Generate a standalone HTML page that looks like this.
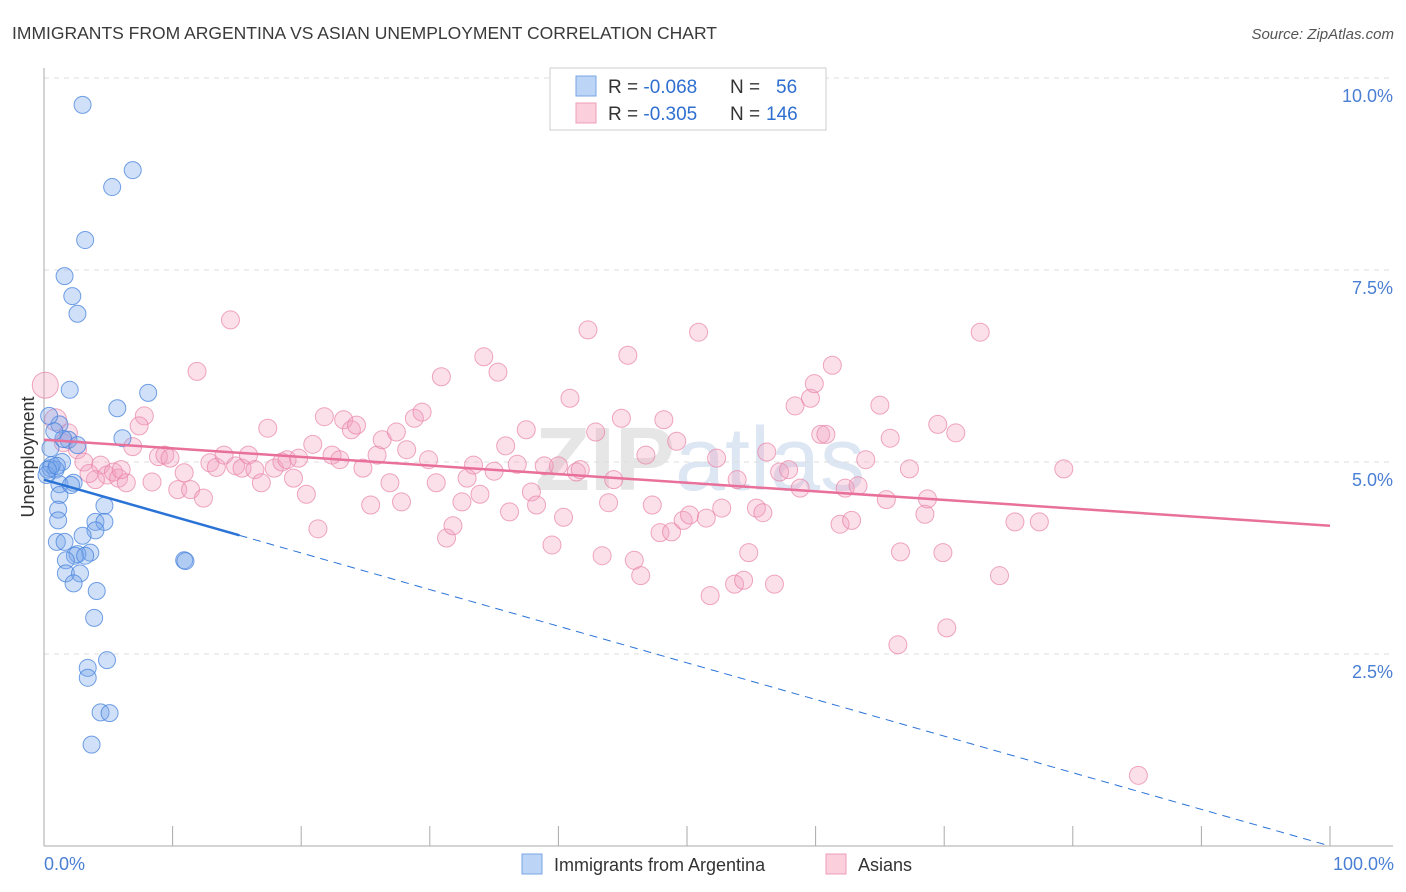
<!DOCTYPE html>
<html><head><meta charset="utf-8"><style>
body{margin:0;background:#fff;font-family:"Liberation Sans",sans-serif;}
svg{display:block}
</style></head><body>
<svg id="chart" width="1406" height="892">
<text x="12" y="39" font-size="17.5" fill="#3a3a3a">IMMIGRANTS FROM ARGENTINA VS ASIAN UNEMPLOYMENT CORRELATION CHART</text>
<text x="1394" y="39" font-size="15" fill="#555" font-style="italic" text-anchor="end">Source: ZipAtlas.com</text>
<text x="700" y="490" font-size="90" fill="#e6e6e6" text-anchor="middle" font-weight="bold">ZIP<tspan font-weight="normal" fill="#dde6f3">atlas</tspan></text>
<g id="grid"></g>
<g id="axes"></g>
<g id="pts"></g>
<g id="lines"></g>
<text transform="translate(34,457) rotate(-90)" font-size="18" fill="#333" text-anchor="middle">Unemployment</text>
<text x="44" y="870" font-size="18" fill="#4a7fd4">0.0%</text>
<text x="1394" y="870" font-size="18" fill="#4a7fd4" text-anchor="end">100.0%</text>
<g>
<rect x="550" y="68" width="276" height="62" fill="#fff" stroke="#ccc"/>
<rect x="576" y="76" width="20" height="20" fill="#bcd4f6" stroke="#7aa6e6"/>
<rect x="576" y="103" width="20" height="20" fill="#fbcfdc" stroke="#ee9cb8"/>
<text x="608" y="93" font-size="19" fill="#333">R = <tspan fill="#2f6fd0">-0.068</tspan></text>
<text x="730" y="93" font-size="19" fill="#333">N = </text><text x="776" y="93" font-size="19" fill="#2f6fd0">56</text>
<text x="608" y="120" font-size="19" fill="#333">R = <tspan fill="#2f6fd0">-0.305</tspan></text>
<text x="730" y="120" font-size="19" fill="#333">N = </text><text x="766" y="120" font-size="19" fill="#2f6fd0">146</text>
</g>
<g>
<rect x="522" y="854" width="20" height="20" fill="#bcd4f6" stroke="#7aa6e6"/>
<text x="554" y="871" font-size="18" fill="#333">Immigrants from Argentina</text>
<rect x="826" y="854" width="20" height="20" fill="#fbcfdc" stroke="#ee9cb8"/>
<text x="858" y="871" font-size="18" fill="#333">Asians</text>
</g>
</svg>
<script>
const yTicks=[2.5,5,7.5,10];
const yTickLabels=["2.5%","5.0%","7.5%","10.0%"];
const blueX=[3.0,6.9,5.3,3.2,1.6,2.2,2.6,2.0,8.1,5.7,1.2,6.1,1.9,2.6,0.5,1.4,0.5,0.9,1.2,2.3,1.2,4.7,1.1,1.1,4.0,4.7,4.0,3.0,1.0,1.6,3.6,2.6,2.4,3.2,1.7,10.9,11.0,1.7,2.8,2.3,4.1,3.9,4.9,3.4,3.4,4.4,5.1,3.7,0.6,0.2,0.4,1.5,0.3,2.1,0.8,1.0];
const blueY=[9.65,8.8,8.58,7.89,7.42,7.16,6.93,5.94,5.9,5.7,5.49,5.31,5.29,5.22,5.18,5.0,4.92,4.9,4.71,4.73,4.57,4.43,4.38,4.24,4.22,4.22,4.11,4.04,3.96,3.96,3.82,3.8,3.78,3.78,3.72,3.72,3.71,3.55,3.55,3.42,3.32,2.97,2.42,2.32,2.19,1.74,1.73,1.32,4.96,4.83,5.6,5.3,4.9,4.7,5.4,4.95];
const pinkX=[0.1,0.9,1.9,2.6,14.5,11.9,7.8,7.4,6.9,8.9,9.4,9.8,3.1,4.4,4.9,5.4,5.8,6.4,4.0,8.4,10.9,10.4,11.4,12.4,12.9,13.4,14.0,14.9,15.4,15.9,16.4,16.9,17.4,17.9,18.5,18.9,19.4,19.8,20.4,20.9,21.3,21.8,22.4,23.0,23.3,23.9,24.3,24.8,25.4,25.9,26.3,26.9,27.4,27.8,28.2,28.8,29.4,29.9,30.5,30.9,31.3,31.8,32.5,32.9,33.4,33.9,34.2,35.0,35.3,35.9,36.2,36.8,37.5,37.9,38.3,38.9,39.5,40.0,40.4,40.9,41.4,41.7,42.3,42.9,43.4,43.9,44.3,44.9,45.4,45.9,46.4,46.8,47.3,47.9,48.2,48.8,49.2,49.7,50.2,50.9,51.5,51.8,52.3,52.7,53.7,53.9,54.4,54.8,55.4,55.9,56.2,56.8,57.2,57.9,58.4,58.8,59.6,59.9,60.4,60.8,61.3,61.9,62.3,62.8,63.3,63.9,65.0,65.5,65.8,66.4,66.6,67.3,68.5,68.7,69.5,69.9,70.2,70.9,72.8,74.3,75.5,77.4,79.3,85.1,1.5,3.5,6.0];
const pinkY=[6.0,5.55,5.38,5.16,6.85,6.18,5.6,5.47,5.2,5.07,5.09,5.05,5.0,4.96,4.83,4.87,4.79,4.73,4.77,4.74,4.86,4.64,4.64,4.53,4.99,4.93,5.09,4.95,4.92,5.09,4.9,4.73,5.44,4.92,5.0,5.03,4.79,5.05,4.58,5.23,4.13,5.59,5.09,5.03,5.55,5.42,5.48,4.92,4.44,5.09,5.29,4.73,5.39,4.48,5.16,5.57,5.65,5.03,4.73,6.11,4.01,4.17,4.48,4.79,4.96,4.58,6.37,4.88,6.17,5.21,4.35,4.97,5.42,4.61,4.44,4.95,3.92,4.95,4.28,5.83,4.87,4.9,6.72,5.39,3.78,4.47,4.77,5.57,6.39,3.72,3.52,5.09,4.44,4.08,5.55,4.09,5.27,4.24,4.31,6.69,4.27,3.26,5.05,4.4,3.41,4.77,3.46,3.82,4.4,4.34,5.13,3.41,4.87,4.9,5.73,4.66,5.83,6.02,5.36,5.36,6.26,4.19,4.66,4.24,4.69,5.03,5.74,4.51,5.31,2.62,3.83,4.91,4.32,4.52,5.49,3.82,2.84,5.38,6.69,3.52,4.22,4.22,4.91,0.92,5.25,4.85,4.9];
const blueTrend=[4.77,-0.0477];
const pinkTrend=[5.29,-0.0112];
const X=v=>44+v*12.86, Y=v=>846-v*76.8;
const NS='http://www.w3.org/2000/svg';
function mk(tag,attrs,parent){const e=document.createElementNS(NS,tag);for(const k in attrs)e.setAttribute(k,attrs[k]);parent.appendChild(e);return e;}
const grid=document.getElementById('grid'),axes=document.getElementById('axes'),pts=document.getElementById('pts'),lines=document.getElementById('lines');
yTicks.forEach((t,i)=>{
 const l=mk('line',{x1:44,x2:1393,y1:Y(t),y2:Y(t),stroke:'#ddd','stroke-dasharray':'5,5'},grid);
 
 
 const tx=mk('text',{x:1393,y:Y(t)+24,'font-size':18,fill:'#4a7fd4','text-anchor':'end'},grid);
 tx.textContent=yTickLabels[i];
 
 
});
const ya=mk('line',{x1:44,x2:44,y1:68,y2:846,stroke:'#aaa'},axes);


const xa=mk('line',{x1:44,x2:1393,y1:846,y2:846,stroke:'#aaa'},axes);


for(let i=0;i<=10;i++){
 const t=mk('line',{x1:X(i*10),x2:X(i*10),y1:826,y2:846,stroke:'#aaa'},axes);
 
 
}
pinkX.forEach((x,i)=>{
 const c=mk('circle',{cx:X(x),cy:Y(pinkY[i]),r:i===0?13:(i===1?11:9),fill:'rgba(244,160,190,0.32)',stroke:'rgba(232,130,165,0.7)','stroke-width':1},pts);
 
 
});
blueX.forEach((x,i)=>{
 const c=mk('circle',{cx:X(x),cy:Y(blueY[i]),r:8.5,fill:'rgba(120,165,235,0.35)',stroke:'rgba(70,130,220,0.75)','stroke-width':1},pts);
 
 
});
const pl=mk('line',{x1:X(0),y1:Y(pinkTrend[0]),x2:X(100),y2:Y(pinkTrend[0]+pinkTrend[1]*100),stroke:'#e8709a','stroke-width':2.5},lines);


const bs=15.2;
const bl=mk('line',{x1:X(0),y1:Y(blueTrend[0]),x2:X(bs),y2:Y(blueTrend[0]+blueTrend[1]*bs),stroke:'#2a73d6','stroke-width':2.5},lines);


const bd=mk('line',{x1:X(bs),y1:Y(blueTrend[0]+blueTrend[1]*bs),x2:X(100),y2:Y(blueTrend[0]+blueTrend[1]*100),stroke:'#2a73d6','stroke-width':1,'stroke-dasharray':'8,6'},lines);


</script>
</body></html>
